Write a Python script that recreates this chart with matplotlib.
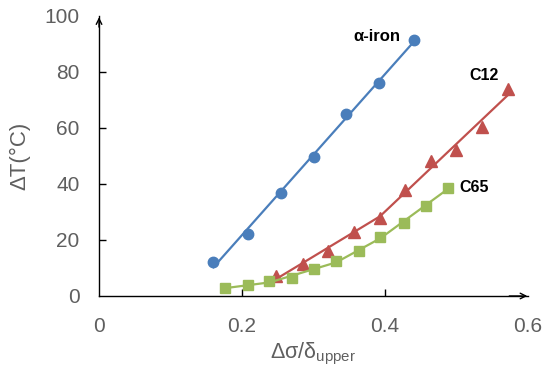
import numpy as np
import matplotlib
matplotlib.use('Agg')
import matplotlib.pyplot as plt

plt.rcParams['font.family'] = ['Liberation Sans', 'DejaVu Sans']
plt.rcParams['mathtext.fontset'] = 'custom'
plt.rcParams['mathtext.rm'] = 'Liberation Sans'
plt.rcParams['mathtext.it'] = 'Liberation Sans:italic'

# stress ratio vs temperature rise for each material
x_iron = [0.160, 0.208, 0.254, 0.301, 0.345, 0.392, 0.440]
y_iron = [12.3, 22.2, 36.7, 49.6, 65.0, 76.0, 91.4]

x_c12 = [0.248, 0.285, 0.321, 0.357, 0.393, 0.428, 0.464, 0.500, 0.536, 0.572]
y_c12 = [7.0, 11.3, 16.2, 23.0, 28.0, 37.9, 48.3, 52.1, 60.5, 73.8]

x_c65 = [0.176, 0.208, 0.238, 0.270, 0.301, 0.332, 0.363, 0.393, 0.426, 0.457, 0.488]
y_c65 = [2.8, 3.8, 5.4, 6.3, 9.8, 12.4, 16.0, 21.0, 26.2, 32.2, 38.5]

blue = '#4A7EBB'
red = '#C0504D'
green = '#9BBB59'
grey = '#5F5F5F'


def hinge_fit(x, y, knots):
    # continuous piecewise-linear least-squares fit with breaks at knots
    x = np.asarray(x)
    y = np.asarray(y)
    cols = [np.ones_like(x), x] + [np.maximum(0, x - k) for k in knots]
    A = np.column_stack(cols)
    coef, *_ = np.linalg.lstsq(A, y, rcond=None)
    xs = np.linspace(x.min(), x.max(), 200)
    B = np.column_stack([np.ones_like(xs), xs] + [np.maximum(0, xs - k) for k in knots])
    return xs, B @ coef


fig = plt.figure(figsize=(5.45, 3.76), dpi=100)
ax = fig.add_axes([0.1817, 0.2128, 0.787, 0.745])

xs, ys = hinge_fit(x_iron, y_iron, [])
ax.plot(xs, ys, color=blue, lw=1.6)
ax.plot(x_iron, y_iron, 'o', color=blue, ms=7.5)

xs, ys = hinge_fit(x_c12, y_c12, [0.393])
ax.plot(xs, ys, color=red, lw=1.6)
ax.plot(x_c12, y_c12, '^', color=red, ms=8)

xs, ys = hinge_fit(x_c65, y_c65, [0.238, 0.332, 0.393])
ax.plot(xs, ys, color=green, lw=1.6)
ax.plot(x_c65, y_c65, 's', color=green, ms=7)

ax.text(0.389, 92.5, 'α-iron', fontsize=12, fontweight='bold', ha='center', va='center')
ax.text(0.538, 78.6, 'C12', fontsize=11.5, fontweight='bold', ha='center', va='center')
ax.text(0.525, 38.6, 'C65', fontsize=11.5, fontweight='bold', ha='center', va='center')

ax.set_xlim(0, 0.6)
ax.set_ylim(0, 100)
ax.set_xticks([0, 0.2, 0.4, 0.6])
ax.set_xticklabels(['0', '0.2', '0.4', '0.6'])
ax.set_yticks([0, 20, 40, 60, 80, 100])

for s in ['top', 'right']:
    ax.spines[s].set_visible(False)
for s in ['left', 'bottom']:
    ax.spines[s].set_linewidth(1.0)

# arrow heads on the axes
ax.annotate('', xy=(1.005, 0), xytext=(0.95, 0), xycoords='axes fraction',
            arrowprops=dict(arrowstyle='->', color='black', lw=1.0), annotation_clip=False)
ax.annotate('', xy=(0, 1.005), xytext=(0, 0.95), xycoords='axes fraction',
            arrowprops=dict(arrowstyle='->', color='black', lw=1.0), annotation_clip=False)

ax.tick_params(direction='in', length=5, width=1, labelsize=15, labelcolor=grey)
ax.tick_params(axis='x', pad=15)
ax.tick_params(axis='y', pad=14)
# hide the tick marks at the origin and the arrow ends
for t in ax.xaxis.get_major_ticks()[0::3]:
    t.tick1line.set_visible(False)
for t in [ax.yaxis.get_major_ticks()[0], ax.yaxis.get_major_ticks()[-1]]:
    t.tick1line.set_visible(False)

ax.set_xlabel('Δσ/δ$_{\\mathregular{upper}}$', fontsize=15.5, color=grey, labelpad=4)
ax.set_ylabel('ΔT(°C)', fontsize=16, color=grey, labelpad=10)

fig.savefig('out.png', dpi=100)
